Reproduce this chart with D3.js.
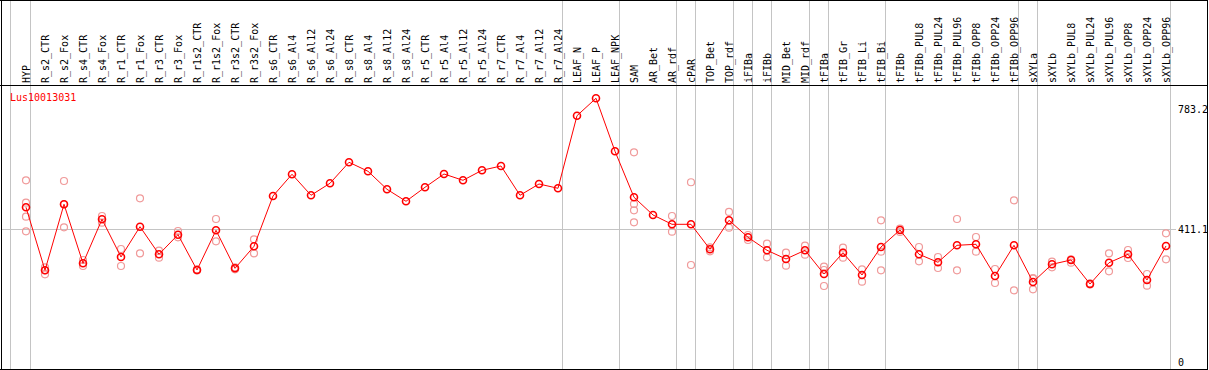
<!DOCTYPE html>
<html>
<head>
<meta charset="utf-8">
<script src="https://cdn.jsdelivr.net/npm/d3@7"></script>
<style>
  body { margin: 0; background: #fff; }
  svg { display: block; }
</style>
</head>
<body>
<div id="main"></div>
<script>
const cte = {
    w: 1209,
    h: 370,
    headerY: 85,
    font: "'DejaVu Sans Mono', monospace"
};

const geneName = "Lus10013031";

const samples = [
    "HYP", "R_s2_CTR", "R_s2_Fox", "R_s4_CTR", "R_s4_Fox", "R_r1_CTR", "R_r1_Fox",
    "R_r3_CTR", "R_r3_Fox", "R_r1s2_CTR", "R_r1s2_Fox", "R_r3s2_CTR", "R_r3s2_Fox",
    "R_s6_CTR", "R_s6_Al4", "R_s6_Al12", "R_s6_Al24", "R_s8_CTR", "R_s8_Al4", "R_s8_Al12",
    "R_s8_Al24", "R_r5_CTR", "R_r5_Al4", "R_r5_Al12", "R_r5_Al24", "R_r7_CTR", "R_r7_Al4",
    "R_r7_Al12", "R_r7_Al24", "LEAF_N", "LEAF_P", "LEAF_NPK", "SAM", "AR_Bet", "AR_rdf",
    "cPAR", "TOP_Bet", "TOP_rdf", "iFIBa", "iFIBb", "MID_Bet", "MID_rdf", "tFIBa",
    "tFIB_Gr", "tFIB_Li", "tFIB_Bi", "tFIBb", "tFIBb_PUL8", "tFIBb_PUL24", "tFIBb_PUL96",
    "tFIBb_OPP8", "tFIBb_OPP24", "tFIBb_OPP96", "sXYLa", "sXYLb", "sXYLb_PUL8",
    "sXYLb_PUL24", "sXYLb_PUL96", "sXYLb_OPP8", "sXYLb_OPP24", "sXYLb_OPP96"
];

// mean expression per sample
const means = [
    478.2, 283.4, 487.5, 305.1, 441.1, 324.6, 418.2,
    332.9, 393.5, 284.4, 407.1, 289.6, 357.6,
    513.1, 580.2, 515.3, 552.4, 617.3, 589.5, 533.8,
    496.7, 540.0, 581.1, 561.6, 592.5, 605.8, 515.3,
    550.2, 536.9, 761.3, 815.1, 651.3, 509.1, 454.4, 425.6,
    425.6, 348.4, 438.0, 385.4, 345.3, 318.4, 345.3, 272.0,
    337.8, 268.9, 355.5, 408.0, 332.9, 308.2, 360.7,
    363.8, 265.8, 360.7, 247.3, 302.0, 315.3,
    241.1, 306.9, 332.9, 253.5, 358.6
];

// replicate values per sample
const replicates = [
    [561.6, 492.4, 449.1, 404.0], [292.7, 283.4, 271.1], [559.5, 487.5, 416.4], [315.3, 296.7], [451.3, 430.6], [349.3, 296.7], [506.0, 336.0],
    [344.0, 322.4], [404.9, 385.4], [286.0, 283.0], [442.0, 373.1], [292.7, 286.5], [379.3, 336.0],
    [], [], [], [], [], [], [],
    [], [], [], [], [], [], [],
    [], [], [], [], [], [648.2, 488.4, 468.9, 431.8], [], [451.3, 402.8],
    [555.5, 299.8], [354.5, 342.2], [463.7, 415.1], [392.6, 377.1], [365.7, 323.6], [337.8, 297.7], [359.5, 331.7], [294.6, 284.4, 234.9],
    [353.3, 337.8, 322.4], [286.5, 248.2], [438.0, 340.9, 283.4], [412.0, 401.8], [355.5, 311.3], [324.6, 290.6], [442.0, 283.4],
    [386.4, 340.9], [287.5, 244.2], [499.8, 221.6], [257.5, 259.7, 224.7], [310.0, 292.7], [317.4, 306.9],
    [243.0, 239.5], [336.0, 280.4], [346.2, 321.5], [272.0, 235.8], [397.8, 317.4]
];

// last sample of each group (gray separator drawn after it)
const groupEnds = ["HYP", "R_r7_Al24", "LEAF_NPK", "AR_rdf", "cPAR", "TOP_rdf", "iFIBa",
    "iFIBb", "MID_rdf", "tFIBa", "tFIB_Bi", "tFIBb_OPP96", "sXYLa", "sXYLb_OPP96"];

const yTicks = [0, 411.1, 783.2];
const gridValue = 411.1;

const xScale = d3.scalePoint().domain(samples).range([26, 1166]);
const yScale = d3.scaleLinear().domain([0, 783.2]).range([362, 108.6]);

const svg = d3.select("#main").append("svg")
    .attr("width", cte.w)
    .attr("height", cte.h);

svg.append("rect")
    .attr("width", cte.w).attr("height", cte.h)
    .attr("fill", "white");

// gray vertical separators
const sepX = [10].concat(groupEnds.map(d => xScale(d) + 4));
svg.selectAll(".sep")
    .data(sepX)
    .enter().append("line")
    .attr("class", "sep")
    .attr("x1", d => Math.round(d) + 0.5)
    .attr("x2", d => Math.round(d) + 0.5)
    .attr("y1", 0)
    .attr("y2", cte.h)
    .attr("stroke", "#c4c4c4")
    .attr("stroke-width", 1)
    .attr("shape-rendering", "crispEdges");

// horizontal gridline
svg.append("line")
    .attr("x1", 2).attr("x2", 1176)
    .attr("y1", Math.round(yScale(gridValue)) + 0.5)
    .attr("y2", Math.round(yScale(gridValue)) + 0.5)
    .attr("stroke", "#c4c4c4")
    .attr("shape-rendering", "crispEdges");

// frame
const frame = svg.append("g")
    .attr("stroke", "black")
    .attr("shape-rendering", "crispEdges");
frame.append("line").attr("x1", 0).attr("x2", 1208).attr("y1", 0.5).attr("y2", 0.5);
frame.append("line").attr("x1", 0).attr("x2", 1208).attr("y1", cte.headerY + 0.5).attr("y2", cte.headerY + 0.5);
frame.append("line").attr("x1", 0).attr("x2", 1208).attr("y1", 369.5).attr("y2", 369.5);
frame.append("line").attr("x1", 1.5).attr("x2", 1.5).attr("y1", 0).attr("y2", cte.h);
frame.append("line").attr("x1", 1207.5).attr("x2", 1207.5).attr("y1", 0).attr("y2", cte.h);

// sample labels
svg.selectAll(".lab")
    .data(samples)
    .enter().append("text")
    .attr("class", "lab")
    .attr("transform", d => `translate(${xScale(d) + 3.5}, 83) rotate(-90)`)
    .style("font-family", cte.font)
    .style("font-size", "10px")
    .attr("fill", "black")
    .text(d => d);

// y labels
svg.selectAll(".ytick")
    .data(yTicks)
    .enter().append("text")
    .attr("class", "ytick")
    .attr("x", 1178)
    .attr("y", d => yScale(d) + 4)
    .style("font-family", cte.font)
    .style("font-size", "10px")
    .attr("fill", "black")
    .text(d => d);

// gene name
svg.append("text")
    .attr("x", 10)
    .attr("y", 101)
    .style("font-family", cte.font)
    .style("font-size", "10px")
    .attr("fill", "red")
    .text(geneName);

// replicate points
const repData = [];
replicates.forEach((arr, i) => arr.forEach(v => repData.push({ s: samples[i], v })));
svg.selectAll(".rep")
    .data(repData)
    .enter().append("circle")
    .attr("class", "rep")
    .attr("cx", d => xScale(d.s))
    .attr("cy", d => yScale(d.v))
    .attr("r", 3.5)
    .attr("fill", "none")
    .attr("stroke", "#f09a9a")
    .attr("stroke-width", 1.2);

// mean line
const lineData = samples.map((s, i) => ({ s, v: means[i] }));
const lineGenerator = d3.line()
    .x(d => xScale(d.s))
    .y(d => yScale(d.v));
svg.append("path")
    .attr("d", lineGenerator(lineData))
    .attr("fill", "none")
    .attr("stroke", "red")
    .attr("stroke-width", 1);

svg.selectAll(".mean")
    .data(lineData)
    .enter().append("circle")
    .attr("class", "mean")
    .attr("cx", d => xScale(d.s))
    .attr("cy", d => yScale(d.v))
    .attr("r", 3.5)
    .attr("fill", "none")
    .attr("stroke", "red")
    .attr("stroke-width", 1.6);
</script>
</body>
</html>
